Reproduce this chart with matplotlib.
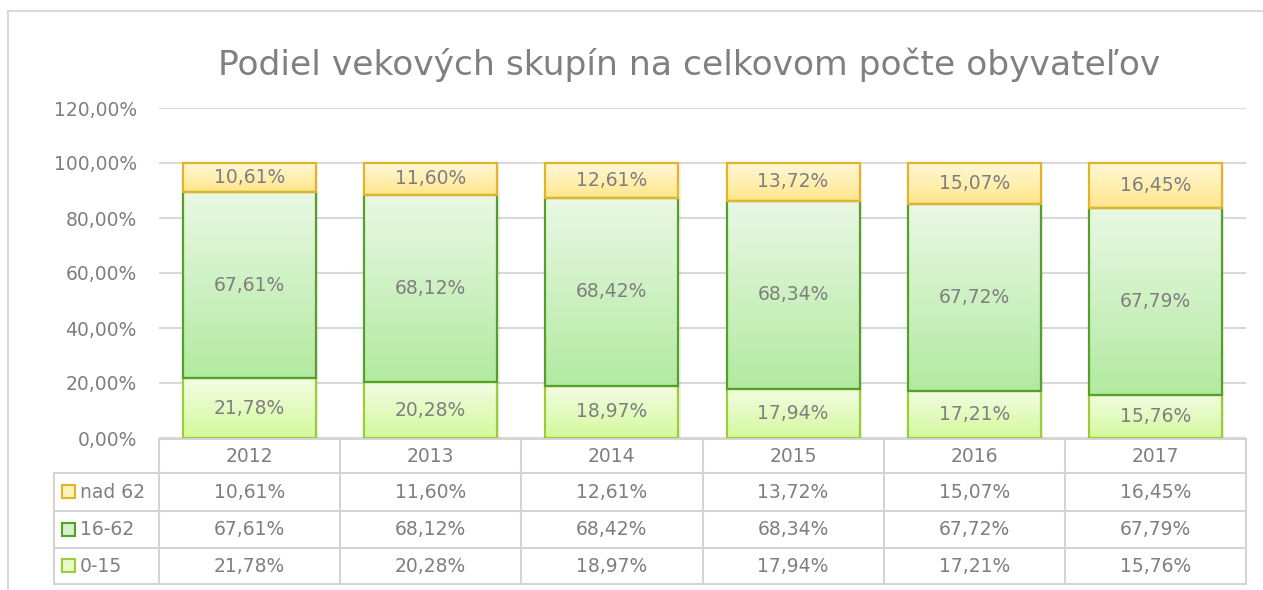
import matplotlib.pyplot as plt
import numpy as np
from matplotlib.colors import LinearSegmentedColormap
from matplotlib.patches import Rectangle

years = ['2012', '2013', '2014', '2015', '2016', '2017']
series = ['nad 62', '16-62', '0-15']
v_0_15 = [21.78, 20.28, 18.97, 17.94, 17.21, 15.76]
v_16_62 = [67.61, 68.12, 68.42, 68.34, 67.72, 67.79]
v_nad62 = [10.61, 11.60, 12.61, 13.72, 15.07, 16.45]
yticks = [0, 20, 40, 60, 80, 100, 120]


def pct(v, dec=2):
    return f'{v:.{dec}f}'.replace('.', ',') + '%'


# top, bottom gradient colours and edge colour per series
styles = {
    '0-15': ('#F3FDE4', '#D3F99C', '#9CCD36'),
    '16-62': ('#EAF8E5', '#B2EAA0', '#56A02A'),
    'nad 62': ('#FFF8D8', '#FFE68A', '#E2B42A'),
}
txt = '#7F7F7F'
grid = '#D9D9D9'
plt.rcParams['font.family'] = ['DejaVu Sans']

W, H = 1263, 590
fig = plt.figure(figsize=(W / 100, H / 100), dpi=100)


def fr(x0, y0, x1, y1):
    # pixel box -> figure fraction rect
    return [x0 / W, 1 - y1 / H, (x1 - x0) / W, (y1 - y0) / H]


# chart outer border (left + top visible)
fig.add_artist(plt.Line2D([8 / W, 8 / W], [0, 1 - 11 / H], color=grid, lw=1.5))
fig.add_artist(plt.Line2D([8 / W, 1262 / W], [1 - 11 / H, 1 - 11 / H], color=grid, lw=1.5))

fig.text(689 / W, 1 - 65 / H, 'Podiel vekových skupín na celkovom počte obyvateľov',
         ha='center', va='center', fontsize=24.8, color='#808080')

ax = fig.add_axes(fr(159, 108, 1246, 438))
ax.set_xlim(-0.5, 5.5)
ax.set_ylim(0, 120)
for s in ax.spines.values():
    s.set_visible(False)
ax.set_xticks([])
ax.set_yticks(yticks)
ax.set_yticklabels([pct(t) for t in yticks], fontsize=13.5, color=txt)
ax.tick_params(axis='y', length=0, pad=16)
ax.yaxis.grid(True, color=grid, lw=1.5)
ax.set_axisbelow(True)

x = np.arange(len(years))
bw = 0.735
bottom = np.zeros(len(years))
grad = np.linspace(0, 1, 256).reshape(-1, 1)
for name, vals in [('0-15', v_0_15), ('16-62', v_16_62), ('nad 62', v_nad62)]:
    top_c, bot_c, edge = styles[name]
    cmap = LinearSegmentedColormap.from_list(name, [bot_c, top_c])
    bars = ax.bar(x, vals, bw, bottom=bottom, facecolor='none', edgecolor=edge, lw=1.6, zorder=3)
    for b, v in zip(bars, vals):
        bx, by = b.get_x(), b.get_y()
        im = ax.imshow(grad, cmap=cmap, aspect='auto', origin='lower',
                       extent=[bx, bx + b.get_width(), by, by + b.get_height()], zorder=2)
        im.set_clip_path(b)
        # soft shadow
        ax.add_patch(Rectangle((bx + 0.012, by - 0.6), b.get_width(), b.get_height(),
                               facecolor='#000000', alpha=0.05, lw=0, zorder=1.5))
        ax.text(bx + b.get_width() / 2, by + b.get_height() / 2, pct(v),
                ha='center', va='center', fontsize=13.5, color=txt, zorder=4)
    bottom += np.array(vals)
ax.set_xlim(-0.5, 5.5)
ax.set_ylim(0, 120)

# data table under the chart
tx = fig.add_axes(fr(0, 438, W, 590))
tx.set_xlim(0, W)
tx.set_ylim(590, 438)
tx.axis('off')
cols = np.linspace(159, 1246, len(years) + 1)
rows = [439, 473, 511, 548, 584]
lc = '#D4D4D4'
tx.plot([cols[0], cols[-1]], [rows[0]] * 2, color=lc, lw=1.5)
for ry in rows[1:]:
    tx.plot([54, cols[-1]], [ry, ry], color=lc, lw=1.5)
tx.plot([54, 54], [rows[1], rows[-1]], color=lc, lw=1.5)
for cx in cols:
    tx.plot([cx, cx], [rows[0], rows[-1]], color=lc, lw=1.5)

for i, y in enumerate(years):
    tx.text((cols[i] + cols[i + 1]) / 2, (rows[0] + rows[1]) / 2 + 1, y,
            ha='center', va='center', fontsize=13.5, color=txt)

table_rows = [('nad 62', v_nad62), ('16-62', v_16_62), ('0-15', v_0_15)]
for r, (name, vals) in enumerate(table_rows):
    cy = (rows[r + 1] + rows[r + 2]) / 2
    top_c, bot_c, edge = styles[name]
    cmap = LinearSegmentedColormap.from_list(name + '_k', [bot_c, top_c])
    tx.add_patch(Rectangle((62, cy - 7), 13, 13, facecolor=cmap(0.6), edgecolor=edge, lw=1.5))
    tx.text(80, cy, name, ha='left', va='center', fontsize=13.5, color=txt)
    for i, v in enumerate(vals):
        tx.text((cols[i] + cols[i + 1]) / 2, cy, pct(v),
                ha='center', va='center', fontsize=13.5, color=txt)

fig.savefig('out.png', dpi=100)
